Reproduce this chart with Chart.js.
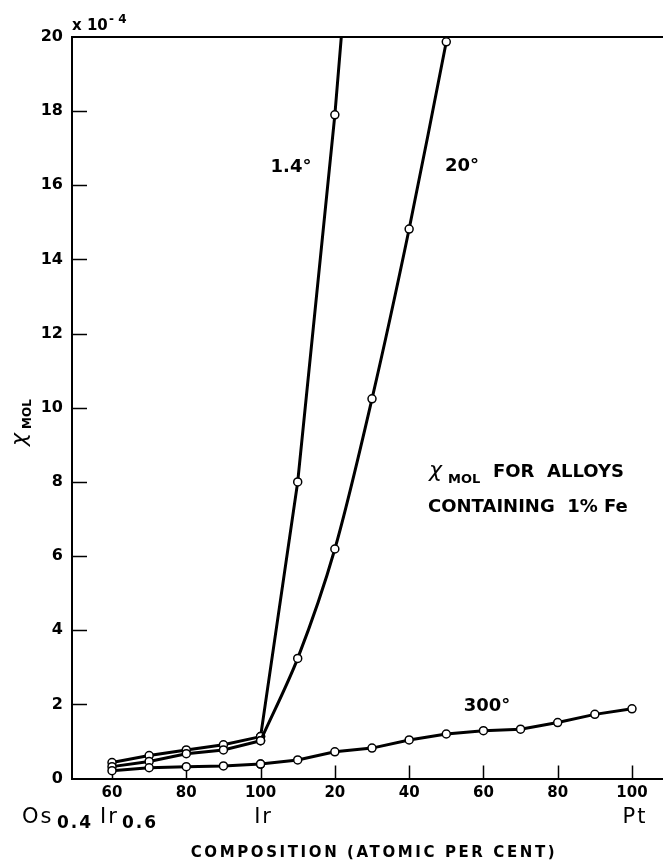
<!DOCTYPE html>
<html>
<head>
<meta charset="utf-8">
<title>Molar susceptibility of Os–Ir–Pt alloys with 1% Fe</title>
<script src="https://cdn.jsdelivr.net/npm/chart.js@4"></script>
<style>
  html, body { margin: 0; padding: 0; background: #fff; }
  #wrap { width: 663px; height: 860px; position: relative; }
  canvas { display: block; }
</style>
</head>
<body>
<div id="wrap"><canvas id="chart" width="663" height="860"></canvas></div>
<script>
// Composition scale: 60..100 is at.% Ir in Os-Ir; 100 + n is n at.% Pt in Ir-Pt.
const osIrComp   = [60, 70, 80, 90, 100];
const chi14OsIr  = [0.43, 0.62, 0.77, 0.91, 1.13];
const chi20OsIr  = [0.32, 0.46, 0.67, 0.77, 1.02];
const chi300OsIr = [0.21, 0.29, 0.32, 0.34, 0.39];

const ptComp14  = [10, 20, 30];
const chi14Pt   = [8.0, 17.9, 30.0];          // last reading lies above the 20 limit
const ptComp20  = [10, 20, 30, 40, 50];
const chi20Pt   = [3.24, 6.19, 10.24, 14.82, 19.87];
const ptComp300 = [10, 20, 30, 40, 50, 60, 70, 80, 90, 100];
const chi300Pt  = [0.50, 0.72, 0.82, 1.04, 1.20, 1.29, 1.33, 1.51, 1.73, 1.88];

const xTickValues = [60, 80, 100, 120, 140, 160, 180, 200];
const yTickValues = [0, 2, 4, 6, 8, 10, 12, 14, 16, 18, 20];

const IR = 100;
const osIrPoints = (vals) => osIrComp.map((c, i) => ({ x: c, y: vals[i] }));
const ptPoints = (comp, vals, irVal) =>
  [{ x: IR, y: irVal }].concat(comp.map((c, i) => ({ x: IR + c, y: vals[i] })));

const FONT = "'DejaVu Sans', sans-serif";

function series(data, tension) {
  return {
    data,
    borderColor: '#000',
    borderWidth: 3,
    pointRadius: 4,
    pointHoverRadius: 4,
    pointBorderWidth: 1.5,
    pointBackgroundColor: '#fff',
    pointBorderColor: '#000',
    tension: tension || 0,
    fill: false
  };
}

// inward tick marks on both axes, drawn under the curves
const inwardTicks = {
  id: 'inwardTicks',
  beforeDatasetsDraw(chart) {
    const { ctx, chartArea: a, scales: { x, y } } = chart;
    ctx.save();
    ctx.strokeStyle = '#000';
    ctx.lineWidth = 1.5;
    ctx.beginPath();
    xTickValues.forEach(v => {
      const px = Math.round(x.getPixelForValue(v)) + 0.5;
      ctx.moveTo(px, a.bottom);
      ctx.lineTo(px, a.bottom - 13);
    });
    yTickValues.forEach(v => {
      if (v === 0 || v === 20) return;
      const py = Math.round(y.getPixelForValue(v)) + 0.5;
      ctx.moveTo(a.left, py);
      ctx.lineTo(a.left + 15, py);
    });
    ctx.stroke();
    // upper frame line
    ctx.lineWidth = 2;
    ctx.beginPath();
    ctx.moveTo(a.left, a.top);
    ctx.lineTo(a.right, a.top);
    ctx.stroke();
    ctx.restore();
  }
};

// lettering: axis titles, composition end labels, curve labels, note
const lettering = {
  id: 'lettering',
  afterDraw(chart) {
    const { ctx, chartArea: a, scales: { x } } = chart;
    ctx.save();
    ctx.fillStyle = '#000';
    ctx.textBaseline = 'alphabetic';

    // exponent of the susceptibility scale
    ctx.textAlign = 'left';
    ctx.font = 'bold 15px ' + FONT;
    ctx.fillText('x 10', a.left, 30);
    ctx.font = 'bold 12px ' + FONT;
    ctx.fillText('- 4', a.left + 37, 23);

    // y-axis title, rotated
    ctx.save();
    ctx.translate(26, 446);
    ctx.rotate(-Math.PI / 2);
    ctx.font = 'italic 22px ' + FONT;
    ctx.fillText('χ', 0, 0);
    ctx.font = 'bold 12px ' + FONT;
    ctx.fillText('MOL', 17, 5);
    ctx.restore();

    // composition end labels: Os0.4Ir0.6 | Ir | Pt
    const base = 823;
    const main = '21px ' + FONT;
    const subFont = 'bold 17px ' + FONT;
    ctx.textAlign = 'left';
    ctx.font = main;
    ctx.letterSpacing = '2px';
    ctx.fillText('Os', 22, base);
    ctx.fillText('Ir', 100, base);
    ctx.font = subFont;
    ctx.fillText('0.4', 57, base + 5);
    ctx.fillText('0.6', 122, base + 5);
    ctx.font = main;
    ctx.textAlign = 'center';
    ctx.fillText('Ir', x.getPixelForValue(IR) + 3, base);
    ctx.fillText('Pt', x.getPixelForValue(IR + 100) + 3, base);
    ctx.letterSpacing = '0px';

    // x-axis title, widely spaced capitals
    const title = 'COMPOSITION (ATOMIC PER CENT)';
    ctx.font = 'bold 15px ' + FONT;
    ctx.textAlign = 'left';
    ctx.letterSpacing = '2.6px';
    const w = ctx.measureText(title).width;
    ctx.fillText(title, 374 - w / 2, 857);
    ctx.letterSpacing = '0px';

    // curve labels
    ctx.font = 'bold 18px ' + FONT;
    ctx.textAlign = 'center';
    ctx.textBaseline = 'middle';
    ctx.fillText('1.4°', 291, 167);
    ctx.fillText('20°', 462, 166);
    ctx.fillText('300°', 487, 706);

    // note
    ctx.textAlign = 'left';
    ctx.textBaseline = 'alphabetic';
    ctx.font = 'italic 22px ' + FONT;
    ctx.fillText('χ', 429, 477);
    ctx.font = 'bold 13px ' + FONT;
    ctx.fillText('MOL', 448, 483);
    ctx.font = 'bold 18px ' + FONT;
    ctx.fillText('FOR  ALLOYS', 493, 477);
    ctx.fillText('CONTAINING  1% Fe', 428, 512);

    ctx.restore();
  }
};

Chart.defaults.font.family = FONT;
Chart.defaults.color = '#000';

new Chart(document.getElementById('chart'), {
  type: 'line',
  data: {
    datasets: [
      series(osIrPoints(chi300OsIr)),
      series(ptPoints(ptComp300, chi300Pt, chi300OsIr[4])),
      series(osIrPoints(chi20OsIr)),
      series(ptPoints(ptComp20, chi20Pt, chi20OsIr[4]), 0.3),
      series(osIrPoints(chi14OsIr)),
      series(ptPoints(ptComp14, chi14Pt, chi14OsIr[4]))
    ]
  },
  options: {
    responsive: false,
    maintainAspectRatio: false,
    animation: false,
    events: [],
    layout: { autoPadding: false, padding: { top: 37, right: 0, left: 0, bottom: 0 } },
    plugins: { legend: { display: false }, tooltip: { enabled: false } },
    scales: {
      x: {
        type: 'linear',
        min: 49.23,
        max: 208.35,
        grid: { display: false, drawTicks: false },
        border: { display: true, color: '#000', width: 2 },
        afterBuildTicks: s => { s.ticks = xTickValues.map(v => ({ value: v })); },
        afterFit: s => { s.height = 81.5; },
        ticks: {
          padding: 6,
          maxRotation: 0,
          autoSkip: false,
          font: { size: 15, weight: 'bold' },
          callback: v => (v <= IR ? String(v) : String(v - IR))
        }
      },
      y: {
        type: 'linear',
        min: 0,
        max: 20,
        grid: { display: false, drawTicks: false },
        border: { display: true, color: '#000', width: 2 },
        afterBuildTicks: s => { s.ticks = yTickValues.map(v => ({ value: v })); },
        afterFit: s => { s.width = 72; },
        ticks: {
          padding: 9,
          font: { size: 16, weight: 'bold' }
        }
      }
    }
  },
  plugins: [inwardTicks, lettering]
});
</script>
</body>
</html>
